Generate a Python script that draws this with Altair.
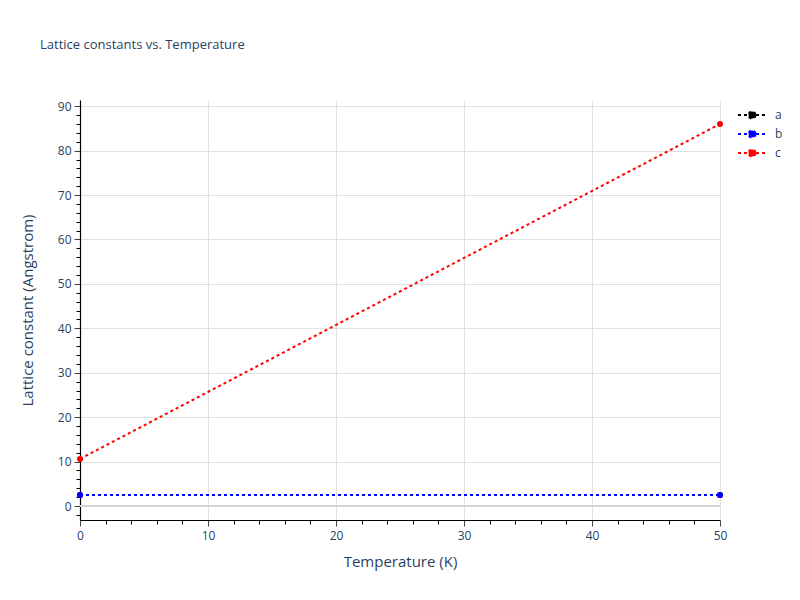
import altair as alt
import pandas as pd

temperature = [0, 50]
lattice_a = [2.46, 2.46]
lattice_b = [2.46, 2.46]
lattice_c = [10.6, 86.0]
series = ["a", "b", "c"]
colors = ["#000000", "#0000ff", "#ff0000"]

rows = []
for name, vals in zip(series, [lattice_a, lattice_b, lattice_c]):
    for t, v in zip(temperature, vals):
        rows.append({"T": t, "value": v, "series": name})
df = pd.DataFrame(rows)

FONT = "Open Sans"
TXT = "#2a3f5f"

xscale = alt.Scale(domain=[0, 50], nice=False, zero=False)
yscale = alt.Scale(domain=[-3.15, 91.4], nice=False, zero=False)
cscale = alt.Scale(domain=series, range=colors)

sym_path = "M-2,0H2M0.5,0A0.5,0.5,0,1,1,-0.5,0A0.5,0.5,0,1,1,0.5,0Z"

legend = alt.Legend(
    title=None, orient="none", legendX=664, legendY=7,
    symbolType=sym_path, symbolSize=196, symbolStrokeWidth=2,
    symbolDash=[3, 3], labelOffset=15, rowPadding=3, padding=0,
    labelFont=FONT, labelFontSize=12, labelColor=TXT,
)

x_main = alt.X("T:Q", scale=xscale, axis=alt.Axis(
    title="Temperature (K)", values=[0, 10, 20, 30, 40, 50], format="d",
    grid=True, gridColor="#e0e0e0", domainColor="#000000", domainWidth=1.2,
    tickColor="#444444", tickSize=6, labelPadding=4, labelFlush=False, labelFont=FONT,
    labelFontSize=12, labelColor=TXT, titleFont=FONT, titleFontSize=15,
    titleColor=TXT, titleFontWeight="normal", titlePadding=13, orient="bottom"))
y_main = alt.Y("value:Q", scale=yscale, axis=alt.Axis(
    title="Lattice constant (Angstrom)", values=list(range(0, 91, 10)), format="d",
    grid=True, gridColor="#e0e0e0", domainColor="#000000", domainWidth=1.2,
    tickColor="#444444", tickSize=6, labelPadding=3, labelFlush=False, labelFont=FONT,
    labelFontSize=12, labelColor=TXT, titleFont=FONT, titleFontSize=15,
    titleColor=TXT, titleFontWeight="normal", titlePadding=22, orient="left"))

x_minor = alt.X("T:Q", scale=xscale, axis=alt.Axis(
    title=None, values=[v for v in range(0, 51, 2) if v % 10], labels=False,
    grid=False, domain=False, tickColor="#000000", tickSize=4, orient="bottom"))
y_minor = alt.Y("value:Q", scale=yscale, axis=alt.Axis(
    title=None, values=[v for v in range(-2, 91, 2) if v % 10], labels=False,
    grid=False, domain=False, tickColor="#000000", tickSize=4, orient="left"))

base = alt.Chart(df)

zero = alt.Chart(pd.DataFrame({"z": [0]})).mark_rule(color="#d4d4d4", strokeWidth=2).encode(
    y=alt.Y("z:Q", scale=yscale, axis=None))

lines = base.mark_line(strokeDash=[3, 3], strokeWidth=2).encode(
    x=x_main, y=y_main,
    color=alt.Color("series:N", scale=cscale, legend=legend),
    detail="series:N",
)

points = base.mark_point(filled=True, size=36, opacity=1).encode(
    x=x_minor, y=y_minor,
    color=alt.Color("series:N", scale=cscale, legend=legend),
)

chart = alt.layer(zero, lines, points).resolve_axis(x="independent", y="independent").properties(
    width=640, height=420,
    autosize=alt.AutoSizeParams(type="none"),
    padding={"left": 72, "top": 92, "right": 72, "bottom": 72},
    title=alt.TitleParams(
        "Lattice constants vs. Temperature", anchor="start", frame="group", dx=-40, offset=38,
        font=FONT, fontSize=13, fontWeight="normal", color=TXT, baseline="alphabetic"),
).configure_view(stroke=None)

chart.save("out.html", embed_options={"renderer": "svg", "actions": False})
